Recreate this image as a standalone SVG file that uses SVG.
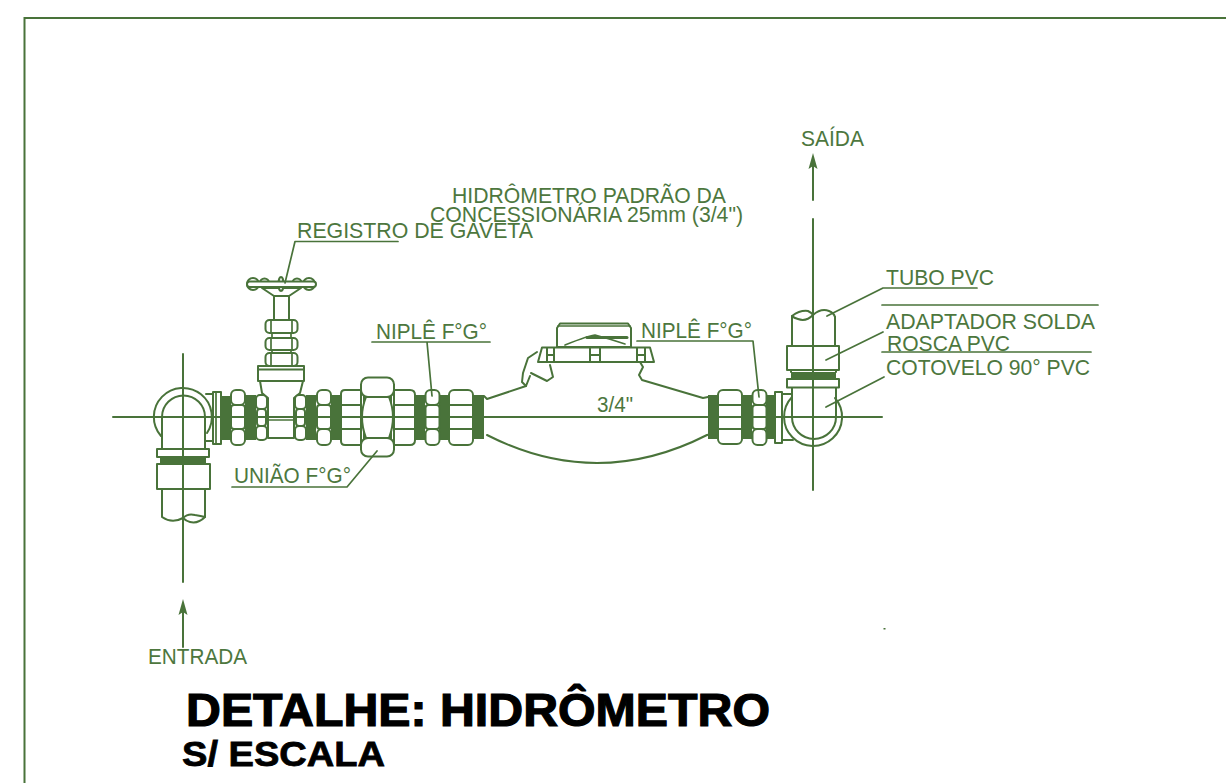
<svg xmlns="http://www.w3.org/2000/svg" width="1226" height="783" viewBox="0 0 1226 783">
<style>
.l{fill:none;stroke:#49733a;stroke-width:2;stroke-linecap:round;stroke-linejoin:round}
.t{fill:none;stroke:#49733a;stroke-width:1.7;stroke-linecap:round;stroke-linejoin:round}
.w{fill:#fff;stroke:#49733a;stroke-width:2;stroke-linejoin:round}
.b{fill:#49733a;stroke:none}
.x{fill:#4d773e;font-family:"Liberation Sans",Arial,sans-serif;font-size:21.500px}
.h{fill:#000;stroke:#000;font-family:"Liberation Sans",Arial,sans-serif;font-weight:700}
</style>
<defs>
<g id="nut14">
<rect class="w" x="0" y="0" width="14" height="15" rx="5"/><rect class="w" x="0" y="15" width="14" height="24" rx="3"/><rect class="w" x="0" y="39" width="14" height="16" rx="5"/>
</g>
<g id="small11">
<rect class="w" x="0" y="0" width="11" height="14" rx="4"/><rect class="w" x="1" y="14" width="9" height="17" rx="3"/><rect class="w" x="0" y="31" width="11" height="14" rx="4"/>
</g>
<path id="wide-cells" class="t" d="M0 15H1M0 39H1"/>
<path id="head" class="b" d="M0 0L4.500 16L0 13L-4.500 16Z"/>
</defs>
<rect id="frame" x="24.500" y="18" width="1230" height="800" fill="none" stroke="#49733a" stroke-width="2"/>

<g id="registro-gaveta">
<rect class="b" x="221" y="396" width="10" height="44"/>
<rect class="b" x="245" y="395" width="11" height="45"/>
<use href="#nut14" x="231" y="390"/>
<use href="#small11" x="256" y="395"/>
<path class="w" d="M260 381L262 393L268 398V438H294V398L300 393L303 381Z"/>
<path class="t" d="M268 420H294"/>
<rect class="w" x="258" y="366" width="46" height="15"/>
<path class="l" d="M258 369.500H304"/>
<use href="#small11" x="295" y="395"/>
<rect class="w" x="274" y="296" width="15" height="26"/>
<path class="w" d="M262 288L274 296H289L301 288Z"/>
<rect class="w" x="265.500" y="320" width="32" height="13" rx="4"/>
<path class="t" d="M271 320V333M292 320V333"/>
<rect class="w" x="265.500" y="338" width="32" height="12" rx="4"/>
<path class="t" d="M271 338V350M292 338V350M272 333V338M291 333V338M272 350V353M291 350V353"/>
<rect class="w" x="265.500" y="353" width="32" height="13" rx="4"/>
<path class="t" d="M271 353V366M292 353V366"/>
<circle class="w" cx="253" cy="284" r="6"/><circle class="w" cx="264.500" cy="283" r="4.500"/><circle class="w" cx="297" cy="283" r="4.500"/><circle class="w" cx="309" cy="284" r="6"/>
<ellipse class="w" cx="281" cy="284" rx="2.500" ry="7"/>
<rect class="w" x="247" y="281.500" width="69" height="5.500" rx="2.700"/>
</g>

<g id="conexoes-esquerda">
<rect class="b" x="306" y="395" width="10" height="45"/>
<rect class="b" x="331" y="395" width="10" height="45"/>
<use href="#nut14" x="317" y="390"/>
<path class="w" d="M345 390H361V445H345Q341 445 341 441V394Q341 390 345 390Z"/>
<path class="l" d="M341 405H361M341 429H361"/>
</g>

<g id="uniao">
<rect class="b" x="363" y="394" width="29" height="46"/>
<path d="M366 397Q358 417 366 438H389Q397 417 389 397Z" fill="#fff" stroke="#49733a" stroke-width="2"/>
<rect class="w" x="361" y="377.500" width="33" height="19.500" rx="7"/>
<rect class="w" x="361" y="438" width="33" height="18.500" rx="7"/>
</g>

<g id="niple-esquerda">
<rect class="b" x="415" y="395" width="10" height="45"/>
<rect class="b" x="439" y="395" width="10" height="45"/>
<rect class="b" x="473" y="395" width="11" height="44"/>
<path class="w" d="M394 390H410Q415 390 415 395V440Q415 445 410 445H394Z"/>
<path class="l" d="M394 405H415M394 429H415"/>
<use href="#nut14" x="425.500" y="390"/>
<rect class="w" x="449" y="390" width="24" height="55" rx="5"/>
<path class="l" d="M449 405H473M449 429H473"/>
</g>

<g id="hidrometro">
<path class="l" d="M484 396L487 399L526 386M487 435Q597 491 707 435L712 434"/>
<path class="l" d="M640 362L643 367L639 375L642 380L703 398L708 397"/>
<path class="l" d="M537 352L528 358L523 373L522 382L526 386L530 376M531 373L547 381L553 377L550 365"/>
<path class="w" d="M542 347.500L538 362H654L650 347.500Z"/>
<path class="l" d="M547 348V362M554 348V362M590 348V362M600 348V362M637 348V362M645 348V362M547 355H554M590 355H600M637 355H645"/>
<path class="w" d="M557 347V328L560 323.500H628L631 328V347Z"/>
<path class="t" d="M558 326H630M565 345Q590 335 595 335Q610 339 625 344"/>
<path class="l" d="M587 337.500H627" style="stroke-width:3"/>
</g>

<g id="niple-direita">
<rect class="b" x="708" y="395" width="10" height="44"/>
<rect class="b" x="742" y="395" width="10" height="44"/>
<rect class="b" x="766" y="395" width="9.500" height="44"/>
<rect class="w" x="718" y="390" width="24" height="54" rx="5"/>
<path class="l" d="M718 405H742M718 429H742"/>
<use href="#nut14" x="752.500" y="390"/>
<rect class="w" x="775" y="392" width="7" height="51"/>
</g>

<g id="cotovelo-saida">
<path class="l" d="M782 394H792M782 440H793"/>
<path class="l" d="M792 397A29 29 0 1 0 835 398"/>
<path class="l" d="M792 387V417A22 22 0 0 0 836 417V387"/>
<rect class="w" x="787" y="379" width="52" height="8.500"/>
<rect class="b" x="791" y="372" width="45" height="7"/>
<path class="l" d="M791 370V372M836 370V372"/>
<rect class="w" x="787" y="346" width="52" height="24"/>
<path class="l" d="M792 346V316M835 346V317"/>
<path class="l" d="M792 316Q800 310 808 311Q812 313 813 315Q806 322 798 319Q794 318 792 316Z"/>
<path class="l" d="M813 315Q821 308 829 311Q834 313 835 317"/>
</g>

<g id="cotovelo-entrada">
<path class="l" d="M213 394H206M213 441H206"/>
<rect class="w" x="213" y="392" width="8" height="52"/>
<path class="t" d="M216 392V444"/>
<path class="l" d="M161 436A29 29 0 1 1 207 433"/>
<path class="l" d="M162 449V417A21.500 21.500 0 0 1 205 417V449"/>
<rect class="w" x="157" y="449" width="52" height="8"/>
<rect class="b" x="160" y="456" width="46" height="7"/>
<rect class="w" x="157" y="464" width="53" height="25"/>
<path class="l" d="M162 489V517Q172 524 183 518M205 489V517"/>
<path class="l" d="M183 518Q188 513 195 515Q201 516 205 517Q198 524 190 522Q186 521 183 518Z"/>
</g>

<g id="connectors">
<path class="l" d="M113 417H882"/>
<path class="l" d="M183 354V582M183 612V647"/>
<use href="#head" x="183" y="599"/>
<path class="l" d="M813 490V219M813 200V166"/>
<use href="#head" x="813" y="153"/>
<path class="t" d="M295 241.500H398M295 241.500L285 283"/>
<path class="t" d="M372 342H490M427 342L432 396"/>
<path class="t" d="M637 341H753L759 397"/>
<path class="t" d="M232 487H347L377 451"/>
<path class="t" d="M977 288H883L827 316"/>
<path class="t" d="M882 305H1098"/>
<path class="t" d="M882 352H1091M883 332L826 360"/>
<path class="t" d="M884 377L826 407"/>
<rect class="b" x="883.500" y="628" width="2" height="1.500"/>
</g>

<g id="labels">
<text class="x" x="297" y="238" textLength="236" lengthAdjust="spacingAndGlyphs">REGISTRO DE GAVETA</text>
<text class="x" x="452" y="203" textLength="274" lengthAdjust="spacingAndGlyphs">HIDRÔMETRO PADRÃO DA</text>
<text class="x" x="430" y="222" textLength="313" lengthAdjust="spacingAndGlyphs">CONCESSIONÁRIA 25mm (3/4")</text>
<text class="x" x="801" y="146" textLength="63" lengthAdjust="spacingAndGlyphs">SAÍDA</text>
<text class="x" x="886" y="285" textLength="108" lengthAdjust="spacingAndGlyphs">TUBO PVC</text>
<text class="x" x="886" y="329" textLength="209" lengthAdjust="spacingAndGlyphs">ADAPTADOR SOLDA</text>
<text class="x" x="887" y="351" textLength="123" lengthAdjust="spacingAndGlyphs">ROSCA PVC</text>
<text class="x" x="886" y="375" textLength="204" lengthAdjust="spacingAndGlyphs">COTOVELO 90° PVC</text>
<text class="x" x="376" y="339" textLength="111" lengthAdjust="spacingAndGlyphs">NIPLÊ F°G°</text>
<text class="x" x="641" y="338" textLength="111" lengthAdjust="spacingAndGlyphs">NIPLÊ F°G°</text>
<text class="x" x="234" y="483" textLength="117" lengthAdjust="spacingAndGlyphs">UNIÃO F°G°</text>
<text class="x" x="597" y="412" textLength="36" lengthAdjust="spacingAndGlyphs">3/4"</text>
<text class="x" x="148" y="664" textLength="99" lengthAdjust="spacingAndGlyphs">ENTRADA</text>
<text class="h" x="186" y="726" font-size="46" stroke-width="1.200" textLength="584" lengthAdjust="spacingAndGlyphs">DETALHE: HIDRÔMETRO</text>
<text class="h" x="182" y="766" font-size="35" stroke-width="0.800" textLength="203" lengthAdjust="spacingAndGlyphs">S/ ESCALA</text>
</g>
</svg>
